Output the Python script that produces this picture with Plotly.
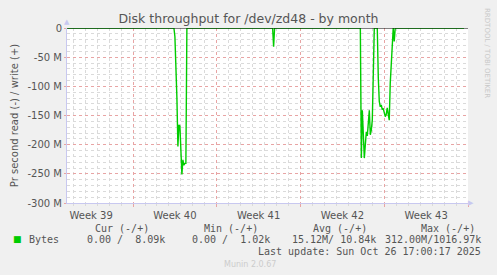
import plotly.graph_objects as go

# ---- data (read throughput in MB/s, 2-hour samples; plotted as negative) ----
read_times = [
    "2025-09-23 12:00", "2025-10-02 10:00", "2025-10-02 12:00", "2025-10-02 14:00",
    "2025-10-02 16:00", "2025-10-02 18:00", "2025-10-02 20:00", "2025-10-02 22:00",
    "2025-10-03 00:00", "2025-10-03 02:00", "2025-10-03 04:00", "2025-10-03 06:00",
    "2025-10-03 08:00", "2025-10-03 10:00", "2025-10-03 12:00",
    "2025-10-10 16:00", "2025-10-10 18:00", "2025-10-10 20:00",
    "2025-10-18 00:00", "2025-10-18 02:00", "2025-10-18 04:00", "2025-10-18 06:00",
    "2025-10-18 08:00", "2025-10-18 10:00", "2025-10-18 12:00", "2025-10-18 14:00",
    "2025-10-18 16:00", "2025-10-18 18:00", "2025-10-18 20:00", "2025-10-18 22:00",
    "2025-10-19 00:00", "2025-10-19 02:00", "2025-10-19 04:00", "2025-10-19 06:00",
    "2025-10-19 08:00", "2025-10-19 10:00", "2025-10-19 12:00", "2025-10-19 14:00",
    "2025-10-19 16:00", "2025-10-19 18:00", "2025-10-19 20:00", "2025-10-19 22:00",
    "2025-10-20 00:00", "2025-10-20 02:00", "2025-10-20 04:00", "2025-10-20 06:00",
    "2025-10-20 08:00", "2025-10-20 10:00", "2025-10-20 12:00", "2025-10-20 14:00",
    "2025-10-20 16:00", "2025-10-20 18:00", "2025-10-20 20:00", "2025-10-20 22:00",
    "2025-10-26 16:00",
]
read_mb = [
    0, 0, 15, 60,
    120, 203, 166, 168,
    200, 251, 226, 235,
    232, 232, 0,
    0, 32, 0,
    0, 223, 141, 180,
    223, 200, 178, 185,
    160, 141, 183, 175,
    158, 100, 0, 0,
    0, 0, 85, 126,
    135, 132, 140, 138,
    145, 152, 148, 137,
    148, 158, 95, 65,
    38, 0, 23, 0,
    0,
]

y_tick_vals = [0, -50e6, -100e6, -150e6, -200e6, -250e6, -300e6]
y_tick_text = ["0", "-50 M", "-100 M", "-150 M", "-200 M", "-250 M", "-300 M"]

stat_headers = ["Cur (-/+)", "Min (-/+)", "Avg (-/+)", "Max (-/+)"]
stat_values = ["0.00 /  8.09k", "0.00 /  1.02k", "15.12M/ 10.84k", "312.00M/1016.97k"]
series_name = "Bytes"

x_range = ["2025-09-23 11:30", "2025-10-27 00:00"]

# ---- layout geometry helpers ----
W, H = 497, 275
L, R, T, B = 67, 468, 28, 203


def px(x):
    return (x - L) / (R - L)


def py(y):
    return (B - y) / (B - T)


GREEN = "#00CC00"
TXT = "#555555"
MONO = "DejaVu Sans Mono"
SANS = "DejaVu Sans"
RED_GRID = "#E8A4A4"
GRAY_GRID = "#DADADA"
DOTS = "dot"

fig = go.Figure()
fig.add_trace(go.Scatter(
    x=read_times, y=[-v * 1e6 for v in read_mb], mode="lines",
    line=dict(color=GREEN, width=1.4), showlegend=False, hoverinfo="skip",
))

fig.update_layout(
    width=W, height=H,
    margin=dict(l=L, r=W - R, t=T, b=H - B),
    paper_bgcolor="#F0F0F0", plot_bgcolor="#FFFFFF",
    showlegend=False,
    title=dict(text="Disk throughput for /dev/zd48 - by month",
               x=0.5, xanchor="center", y=1 - 19 / H, yanchor="middle",
               font=dict(family=SANS, size=12.5, color=TXT)),
    xaxis=dict(
        type="date", range=x_range,
        tick0="2025-09-22", dtick=7 * 86400000,
        ticklabelmode="period", tickformat="Week %V",
        showgrid=True, gridcolor=RED_GRID, griddash=DOTS, gridwidth=1,
        ticks="outside", ticklen=3, tickcolor=RED_GRID,
        tickfont=dict(family=SANS, size=10, color=TXT),
        showline=True, linecolor="#C8C8F0", linewidth=1,
        zeroline=False,
        minor=dict(tickmode="linear", tick0="2025-09-22", dtick=86400000,
                   showgrid=True, gridcolor=GRAY_GRID, griddash=DOTS,
                   ticks="outside", ticklen=2, tickcolor=GRAY_GRID),
    ),
    yaxis=dict(
        range=[-300e6, 0], tickmode="array",
        tickvals=y_tick_vals, ticktext=y_tick_text,
        showgrid=True, gridcolor=RED_GRID, griddash=DOTS, gridwidth=1,
        ticks="outside", ticklen=2, tickcolor=RED_GRID,
        tickfont=dict(family=SANS, size=10, color=TXT),
        showline=True, linecolor="#C8C8F0", linewidth=1,
        zeroline=False,
        title=dict(text="Pr second read (-) / write (+)", standoff=6,
                   font=dict(family=SANS, size=10, color=TXT)),
        minor=dict(tickmode="linear", tick0=0, dtick=10e6,
                   showgrid=True, gridcolor=GRAY_GRID, griddash=DOTS),
    ),
    font=dict(family=SANS),
)

# zero rule drawn above the data (as munin does)
fig.add_shape(type="line", xref="paper", yref="y", x0=0, x1=1, y0=0, y1=0,
              line=dict(color="#000000", width=1.2), layer="above")

ann = []
# axis arrows
ann.append(dict(x=px(67), y=py(22), text="▲", font=dict(size=7, color="#C8C8F0")))
ann.append(dict(x=px(471), y=py(203), text="▶", font=dict(size=7, color="#C8C8F0")))
# side credit
ann.append(dict(x=px(487), y=py(53), text="RRDTOOL / TOBI OETIKER", textangle=90,
                font=dict(family=SANS, size=7, color="#C8C8C8")))
# legend
ann.append(dict(x=px(17), y=py(239), text="■", font=dict(family=SANS, size=9, color=GREEN)))
ann.append(dict(x=px(27), y=py(239), text=series_name, xanchor="left",
                font=dict(family=MONO, size=10, color=TXT)))
header_right = [151, 260, 369, 477]
value_right = [167, 272, 378, 483]
for h, v, hr, vr in zip(stat_headers, stat_values, header_right, value_right):
    ann.append(dict(x=px(hr), y=py(228), text=h, xanchor="right",
                    font=dict(family=MONO, size=10, color=TXT)))
    ann.append(dict(x=px(vr), y=py(239), text=v.replace(" ", "&nbsp;"), xanchor="right",
                    font=dict(family=MONO, size=10, color=TXT)))
ann.append(dict(x=px(483), y=py(251), text="Last update: Sun Oct 26 17:00:17 2025".replace(" ", "&nbsp;"),
                xanchor="right", font=dict(family=MONO, size=10, color=TXT)))
ann.append(dict(x=px(250), y=py(264), text="Munin 2.0.67",
                font=dict(family=SANS, size=8, color="#CCCCCC")))

for a in ann:
    a.setdefault("xanchor", "center")
    a.update(xref="paper", yref="paper", showarrow=False, yanchor="middle")
fig.update_layout(annotations=ann)

fig.write_html("out.html")
